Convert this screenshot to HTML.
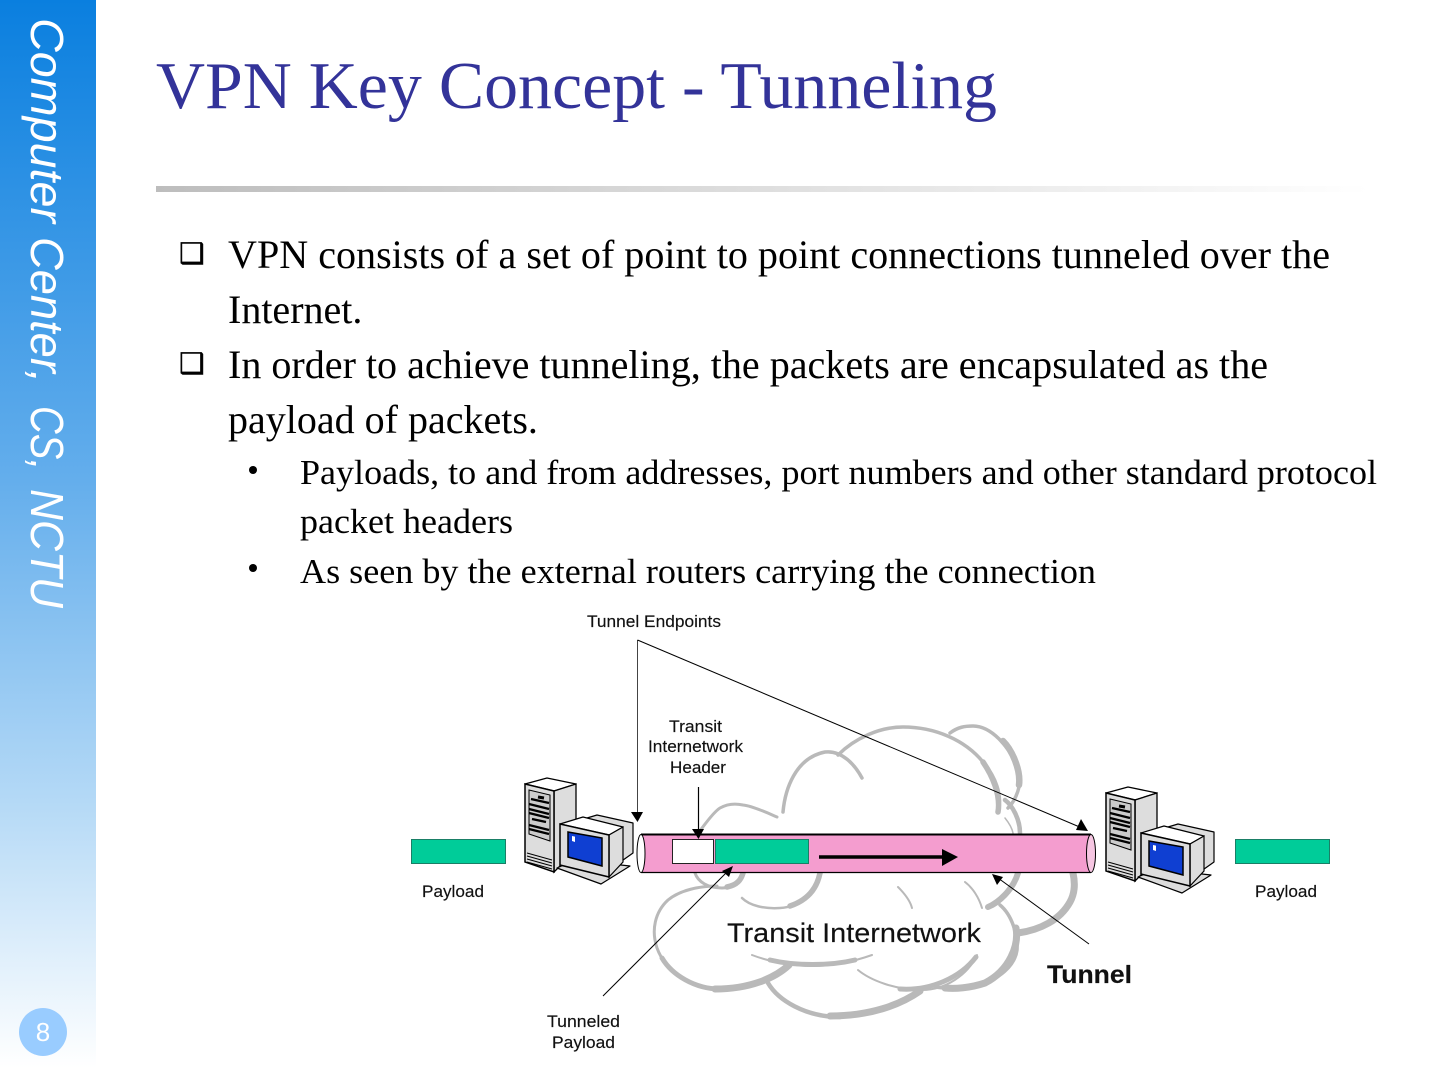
<!DOCTYPE html>
<html lang="en"><head><meta charset="utf-8"><title>VPN Key Concept - Tunneling</title>
<style>html,body{margin:0;padding:0;background:#fff;width:1440px;height:1080px;overflow:hidden}svg{display:block}
.s{font-family:"Liberation Serif",serif;fill:#000}.a{font-family:"Liberation Sans",sans-serif;fill:#111;stroke:#111;stroke-width:.15}
.c{fill:none;stroke:#b9b9b9;stroke-linecap:round;stroke-linejoin:round}</style></head><body>
<svg width="1440" height="1080" viewBox="0 0 1440 1080" xmlns="http://www.w3.org/2000/svg">
<defs>
<linearGradient id="g" x1="0" y1="0" x2="0" y2="1"><stop offset="0" stop-color="#0a7fdf"/><stop offset=".45" stop-color="#64aeec"/><stop offset=".75" stop-color="#b4d9f6"/><stop offset="1" stop-color="#ffffff"/></linearGradient>
<linearGradient id="r" x1="0" y1="0" x2="1" y2="0"><stop offset="0" stop-color="#bdbdbd"/><stop offset="1" stop-color="#ffffff"/></linearGradient>
<g id="srv">
<path d="M525 784L547 778L576 784L554 791Z" fill="#fff" stroke="#000" stroke-width="1.3" stroke-linejoin="round"/>
<path d="M554 791L576 784V850L554 872Z" fill="#ddd" stroke="#000" stroke-width="1.3"/>
<path d="M525 784L554 791V872L525 862Z" fill="#ddd" stroke="#000" stroke-width="1.5"/>
<path d="M529 790L550 795V841L529 834Z" fill="#ccc" stroke="#000"/>
<path d="M531 799L549 803M529 804L549 809M529 809L549 814M529 813L549 818M532 819L546 822M529 825L549 830M529 829L549 834" stroke="#000" stroke-width="2.2"/>
<path d="M538 797L544 798" stroke="#000" stroke-width="3"/>
<path d="M527 853L552 860M527 856L552 863M527 859L552 866M527 862L552 869" stroke="#000"/>
<path d="M557 868L575 860L630 866L601 884Z" fill="#ddd" stroke="#000" stroke-width="1.2" stroke-linejoin="round"/>
<path d="M587 818L597 815L633 823V853L609 870L585 850Z" fill="#ddd" stroke="#000" stroke-width="1.2" stroke-linejoin="round"/>
<path d="M560 824L583 817L623 827L609 835Z" fill="#fff" stroke="#000" stroke-width="1.2" stroke-linejoin="round"/>
<path d="M609 835L623 827V862L609 877Z" fill="#ddd" stroke="#000" stroke-width="1.2"/>
<path d="M560 824L609 835V877L560 865Z" fill="#ddd" stroke="#000" stroke-width="1.5"/>
<path d="M568 832L602 838V866L568 857Z" fill="#0f3fd2" stroke="#000" stroke-width="1.5"/>
<path d="M572 836L575 836.6V842L572 841Z" fill="#fff"/>
</g>
</defs>
<rect x="0" y="0" width="96" height="1068" fill="url(#g)"/>
<g font-family="Liberation Sans" font-style="italic" font-size="46" fill="#fff">
<text transform="translate(31,18) rotate(90)" textLength="205" lengthAdjust="spacingAndGlyphs">Computer</text>
<text transform="translate(31,237) rotate(90)" textLength="146" lengthAdjust="spacingAndGlyphs">Center,</text>
<text transform="translate(31,406) rotate(90)" textLength="64" lengthAdjust="spacingAndGlyphs">CS,</text>
<text transform="translate(31,489) rotate(90)" textLength="119" lengthAdjust="spacingAndGlyphs">NCTU</text>
</g>
<circle cx="43" cy="1032" r="24" fill="#99ccff"/>
<text x="43" y="1041" text-anchor="middle" font-family="Liberation Sans" font-size="26" fill="#fff">8</text>
<text x="156" y="108" font-family="Liberation Serif" font-size="67" fill="#333399" textLength="841" lengthAdjust="spacingAndGlyphs">VPN Key Concept - Tunneling</text>
<rect x="156" y="186" width="1214" height="6" fill="url(#r)"/>
<g class="s" font-size="40">
<text x="228" y="268" textLength="1102" lengthAdjust="spacingAndGlyphs">VPN consists of a set of point to point connections tunneled over the</text>
<text x="228" y="323">Internet.</text>
<text x="228" y="378" textLength="1040" lengthAdjust="spacingAndGlyphs">In order to achieve tunneling, the packets are encapsulated as the</text>
<text x="228" y="433">payload of packets.</text>
</g>
<g class="s" font-size="35">
<text x="300" y="484" textLength="1077" lengthAdjust="spacingAndGlyphs">Payloads, to and from addresses, port numbers and other standard protocol</text>
<text x="300" y="533" textLength="213" lengthAdjust="spacingAndGlyphs">packet headers</text>
<text x="300" y="583" textLength="796" lengthAdjust="spacingAndGlyphs">As seen by the external routers carrying the connection</text>
</g>
<text x="179" y="263" font-family="DejaVu Sans" font-size="28.500" fill="#000" stroke="#000" stroke-width=".5">❑</text>
<text x="179" y="373" font-family="DejaVu Sans" font-size="28.500" fill="#000" stroke="#000" stroke-width=".5">❑</text>
<circle cx="253" cy="470" r="4" fill="#000"/>
<circle cx="253" cy="568" r="4" fill="#000"/>

<g class="c">
<path d="M698 833C702 829 712 813 720 808C727 804 734 803 743 805C753 806 770 814 777 817" stroke-width="3"/>
<path d="M783 812C785 790 795 758 825 752C842 750 855 765 862 778" stroke-width="3.500"/>
<path d="M838 755C855 738 880 727 903 727C935 727 965 740 983 762C995 776 1003 795 998 812" stroke-width="3.500"/>
<path d="M983 762C992 775 1001 795 998 812" stroke-width="5.500"/>
<path d="M950 733C958 727 965 726 973 726C990 726 1010 745 1019 772C1022 785 1016 800 1008 808" stroke-width="3.500"/>
<path d="M1003 741C1012 750 1021 770 1019 785" stroke-width="6.500"/>
<path d="M1005 800C1013 806 1020 820 1020 833" stroke-width="4.500"/>
<path d="M1005 818C1009 823 1012 828 1013 833" stroke-width="1.500"/>
<path d="M695 873C698 882 708 888 722 888C733 888 741 882 743 873" stroke-width="3"/>
<path d="M727 887C737 885 741 880 743 873" stroke-width="5.500"/>
<path d="M717 886C700 886 680 890 668 900C655 912 651 930 657 948C665 970 690 989 720 989C750 989 775 978 792 963" stroke-width="3"/>
<path d="M662 958C672 975 695 989 720 989" stroke-width="5"/>
<path d="M715 989C750 989 775 978 789 965" stroke-width="7"/>
<path d="M742 898C750 906 765 909 780 908C800 907 816 892 820 873" stroke-width="2.500"/>
<path d="M790 906C808 900 817 888 820 873" stroke-width="5.500"/>
<path d="M752 955C770 962 795 966 812 966C835 966 855 961 872 955" stroke-width="2"/>
<path d="M770 960C795 966 830 966 855 960" stroke-width="5"/>
<path d="M768 983C778 1000 805 1017 840 1017" stroke-width="4.500"/>
<path d="M830 1016C870 1016 900 1005 920 991" stroke-width="7"/>
<path d="M858 970C870 980 895 990 922 990C945 990 968 975 977 955" stroke-width="2"/>
<path d="M900 989C930 991 960 978 976 957" stroke-width="5"/>
<path d="M1000 905C1012 915 1018 935 1017 950C1015 965 1000 980 975 986C960 989 948 989 935 987" stroke-width="3.500"/>
<path d="M1016 928C1019 945 1010 970 985 983C970 988 955 989 945 988" stroke-width="7"/>
<path d="M1018 933C1040 930 1060 920 1070 902C1075 893 1075 882 1073 873" stroke-width="7"/>
<path d="M988 907C998 903 1013 890 1018 873" stroke-width="6"/>
<path d="M898 887C904 893 910 900 912 908" stroke-width="2"/>
<path d="M965 882C973 888 979 898 982 908" stroke-width="2"/>
</g>

<use href="#srv"/>
<use href="#srv" transform="translate(581,9)"/>

<rect x="411.500" y="839.500" width="94" height="24" fill="#00cc99" stroke="#1a7f66"/>
<rect x="1235.500" y="839.500" width="94" height="24" fill="#00cc99" stroke="#1a7f66"/>
<path d="M643 834.500H1091V872.500H643Z" fill="#f49dcf"/>
<path d="M641 834.500H1091" stroke="#000" stroke-width="2"/><path d="M641 872.500H1091" stroke="#000" stroke-width="1.300"/>
<ellipse cx="641" cy="853.500" rx="4" ry="19" fill="#fff" stroke="#000" stroke-width="1"/>
<ellipse cx="1091" cy="853.500" rx="4.500" ry="19" fill="#f6c6e2" stroke="#000" stroke-width="1"/>
<rect x="672.500" y="839.500" width="41" height="24" fill="#fff" stroke="#222"/>
<rect x="715.500" y="839.500" width="93" height="24" fill="#00cc99" stroke="#1a7f66"/>
<path d="M819 857H944" stroke="#000" stroke-width="3.500"/><path d="M942 849L958 857L942 866Z" fill="#000"/>

<g stroke="#000" fill="none">
<path d="M637.500 640V814" stroke="#444"/>
<path d="M637.500 640L1082 828" stroke-width="1"/>
<path d="M698.500 787V832" stroke-width="1.200"/>
<path d="M603 996L727 872" stroke-width="1"/>
<path d="M1089 944L998 878" stroke-width="1"/>
</g>
<g fill="#000">
<path d="M631 812H643L637.500 822Z"/>
<path d="M1088 831L1076 830L1081 819Z"/>
<path d="M692 829H704L698.500 839Z"/>
<path d="M733 866L729 877L722 871Z"/>
<path d="M992 874L1003 877L997 885Z"/>
</g>

<g class="a" font-size="17">
<text x="587" y="627" textLength="134" lengthAdjust="spacingAndGlyphs">Tunnel Endpoints</text>
<text x="669" y="732" textLength="53" lengthAdjust="spacingAndGlyphs">Transit</text>
<text x="648" y="752" textLength="95" lengthAdjust="spacingAndGlyphs">Internetwork</text>
<text x="670" y="773" textLength="56" lengthAdjust="spacingAndGlyphs">Header</text>
<text x="422" y="897" textLength="62" lengthAdjust="spacingAndGlyphs">Payload</text>
<text x="1255" y="897" textLength="62" lengthAdjust="spacingAndGlyphs">Payload</text>
<text x="547" y="1027" textLength="73" lengthAdjust="spacingAndGlyphs">Tunneled</text>
<text x="552" y="1048" textLength="63" lengthAdjust="spacingAndGlyphs">Payload</text>
<text x="727" y="942" font-size="27" textLength="254" lengthAdjust="spacingAndGlyphs">Transit Internetwork</text>
<text x="1047" y="983" font-size="25" font-weight="bold" textLength="85" lengthAdjust="spacingAndGlyphs">Tunnel</text>
</g>
</svg></body></html>
